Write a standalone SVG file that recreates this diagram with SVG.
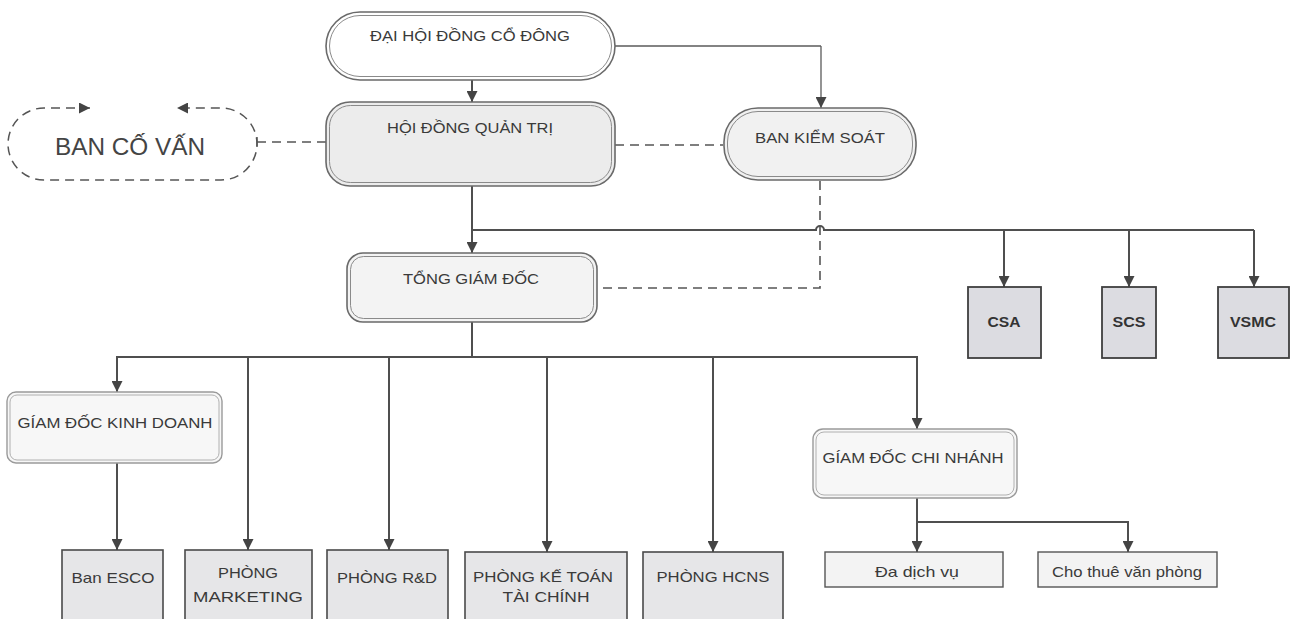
<svg xmlns="http://www.w3.org/2000/svg" width="1297" height="619" viewBox="0 0 1297 619">
<style>
text{font-family:"Liberation Sans",Arial,sans-serif;fill:#3a3a3a;text-anchor:middle}
.t{font-size:15px}
.big{font-size:24px;fill:#444}
.b{font-size:14px;font-weight:bold;fill:#333}
.o{stroke:#6a6a6a;stroke-width:1.6}
.i{fill:none;stroke:#8a8a8a;stroke-width:1}
.box{fill:#e6e6e8;stroke:#4a4a4a;stroke-width:1.6}
.sub{fill:#dcdce1;stroke:#3f3f3f;stroke-width:1.8}
.small{fill:#f3f3f3;stroke:#555;stroke-width:1.4}
.ln{fill:none;stroke:#4f4f4f;stroke-width:2}
.thin{fill:none;stroke:#5a5a5a;stroke-width:1.3}
.dash{fill:none;stroke:#555;stroke-width:1.6;stroke-dasharray:9 6}
</style>
<defs>
<marker id="ah" viewBox="0 0 10 10" refX="10" refY="5" markerWidth="11" markerHeight="11" markerUnits="userSpaceOnUse" orient="auto-start-reverse">
<path d="M0,0 L10,5 L0,10 z" fill="#444"/>
</marker>
</defs>
<rect width="1297" height="619" fill="#ffffff"/>

<g id="connectors">
<line class="thin" x1="615" y1="46" x2="821" y2="46"/>
<line class="thin" x1="821" y1="46" x2="821" y2="108" marker-end="url(#ah)"/>
<line class="ln" x1="472" y1="80" x2="472" y2="102" marker-end="url(#ah)"/>
<line class="dash" x1="257" y1="142" x2="326" y2="142"/>
<line x1="257" y1="137" x2="257" y2="147" stroke="#555" stroke-width="1.4"/>
<line class="dash" x1="615" y1="145" x2="723" y2="145"/>
<line class="ln" x1="472" y1="186" x2="472" y2="253" marker-end="url(#ah)"/>
<path class="ln" d="M472,230 H816 A4,4 0 0 1 824,230 H1254"/>
<path class="dash" d="M820,181 V288 H597" stroke-dasharray="8 6"/>
<line class="ln" x1="1004" y1="230" x2="1004" y2="287" marker-end="url(#ah)"/>
<line class="ln" x1="1129" y1="230" x2="1129" y2="287" marker-end="url(#ah)"/>
<line class="ln" x1="1254" y1="230" x2="1254" y2="287" marker-end="url(#ah)"/>
<line class="ln" x1="472" y1="322" x2="472" y2="357"/>
<path class="ln" d="M117,392 V357 H917 V429" marker-start="url(#ah)" marker-end="url(#ah)"/>
<line class="ln" x1="248" y1="357" x2="248" y2="550" marker-end="url(#ah)"/>
<line class="ln" x1="389" y1="357" x2="389" y2="550" marker-end="url(#ah)"/>
<line class="ln" x1="547" y1="357" x2="547" y2="552" marker-end="url(#ah)"/>
<line class="ln" x1="713" y1="357" x2="713" y2="552" marker-end="url(#ah)"/>
<line class="ln" x1="117" y1="463" x2="117" y2="550" marker-end="url(#ah)"/>
<line class="ln" x1="917" y1="498" x2="917" y2="552" marker-end="url(#ah)"/>
<path class="ln" d="M917,522 H1128 V552" marker-end="url(#ah)"/>
</g>

<g id="dai-hoi">
<rect class="o" x="326" y="12" width="289" height="68" rx="34" style="fill:#ffffff"/>
<rect class="i" x="329.5" y="15.5" width="282" height="61" rx="30.5"/>
<text class="t" x="470" y="41" textLength="200" lengthAdjust="spacingAndGlyphs">ĐẠI HỘI ĐỒNG CỔ ĐÔNG</text>
</g>

<g id="ban-co-van">
<path d="M90,108 H44 A36,36 0 0 0 44,180 H221 A36,36 0 0 0 221,108 H177" fill="none" stroke="#555" stroke-width="1.5" stroke-dasharray="9 6" marker-start="url(#ah)" marker-end="url(#ah)"/>
<text class="big" x="130" y="155" textLength="150" lengthAdjust="spacingAndGlyphs">BAN CỐ VẤN</text>
</g>

<g id="hdqt">
<rect class="o" x="326" y="102" width="289" height="84" rx="24" style="fill:#ececec"/>
<rect class="i" x="329.5" y="105.5" width="282" height="77" rx="21"/>
<text class="t" x="470" y="133" textLength="166" lengthAdjust="spacingAndGlyphs">HỘI ĐỒNG QUẢN TRỊ</text>
</g>

<g id="ban-kiem-soat">
<rect class="o" x="724" y="108" width="192" height="72" rx="34" style="fill:#f1f1f1"/>
<rect class="i" x="727.5" y="111.5" width="185" height="65" rx="30.5"/>
<text class="t" x="820" y="143" textLength="130" lengthAdjust="spacingAndGlyphs">BAN KIỂM SOÁT</text>
</g>

<g id="tong-giam-doc">
<rect class="o" x="347" y="253" width="250" height="69" rx="16" style="fill:#f3f3f3"/>
<rect class="i" x="350.5" y="256.5" width="243" height="62" rx="13"/>
<text class="t" x="471" y="284" textLength="136" lengthAdjust="spacingAndGlyphs">TỔNG GIÁM ĐỐC</text>
</g>

<g id="csa">
<rect class="sub" x="968" y="287" width="73" height="71"/>
<text class="b" x="1004" y="327" textLength="33" lengthAdjust="spacingAndGlyphs">CSA</text>
</g>
<g id="scs">
<rect class="sub" x="1102" y="287" width="54" height="71"/>
<text class="b" x="1129" y="327" textLength="33" lengthAdjust="spacingAndGlyphs">SCS</text>
</g>
<g id="vsmc">
<rect class="sub" x="1218" y="287" width="71" height="71"/>
<text class="b" x="1253" y="327" textLength="46" lengthAdjust="spacingAndGlyphs">VSMC</text>
</g>

<g id="gd-kinh-doanh">
<rect x="7" y="392" width="215" height="71" rx="9" fill="#f7f7f7" stroke="#9a9a9a" stroke-width="1.4"/>
<rect x="10" y="395" width="209" height="65" rx="7" fill="none" stroke="#b0b0b0" stroke-width="1"/>
<text class="t" x="115" y="428" textLength="195" lengthAdjust="spacingAndGlyphs">GÍAM ĐỐC KINH DOANH</text>
</g>

<g id="gd-chi-nhanh">
<rect x="813" y="429" width="204" height="69" rx="10" fill="#f7f7f7" stroke="#9a9a9a" stroke-width="1.4"/>
<rect x="816" y="432" width="198" height="63" rx="8" fill="none" stroke="#b0b0b0" stroke-width="1"/>
<text class="t" x="913" y="463" textLength="181" lengthAdjust="spacingAndGlyphs">GÍAM ĐỐC CHI NHÁNH</text>
</g>

<g id="ban-esco">
<rect class="box" x="62" y="550" width="101" height="80"/>
<text class="t" x="113" y="583" textLength="83" lengthAdjust="spacingAndGlyphs">Ban ESCO</text>
</g>
<g id="phong-marketing">
<rect class="box" x="185" y="550" width="127" height="80"/>
<text class="t" x="248" y="578" textLength="60" lengthAdjust="spacingAndGlyphs">PHÒNG</text>
<text class="t" x="248" y="602" textLength="110" lengthAdjust="spacingAndGlyphs">MARKETING</text>
</g>
<g id="phong-rd">
<rect class="box" x="327" y="550" width="121" height="80"/>
<text class="t" x="387" y="583" textLength="100" lengthAdjust="spacingAndGlyphs">PHÒNG R&amp;D</text>
</g>
<g id="phong-ke-toan">
<rect class="box" x="465" y="552" width="162" height="80"/>
<text class="t" x="543" y="582" textLength="140" lengthAdjust="spacingAndGlyphs">PHÒNG KẾ TOÁN</text>
<text class="t" x="546" y="602" textLength="87" lengthAdjust="spacingAndGlyphs">TÀI CHÍNH</text>
</g>
<g id="phong-hcns">
<rect class="box" x="643" y="552" width="140" height="80"/>
<text class="t" x="713" y="582" textLength="113" lengthAdjust="spacingAndGlyphs">PHÒNG HCNS</text>
</g>

<g id="da-dich-vu">
<rect class="small" x="825" y="552" width="178" height="35"/>
<text class="t" x="917" y="577" textLength="84" lengthAdjust="spacingAndGlyphs">Đa dịch vụ</text>
</g>
<g id="cho-thue">
<rect class="small" x="1038" y="552" width="179" height="35"/>
<text class="t" x="1127" y="577" textLength="150" lengthAdjust="spacingAndGlyphs">Cho thuê văn phòng</text>
</g>
</svg>
